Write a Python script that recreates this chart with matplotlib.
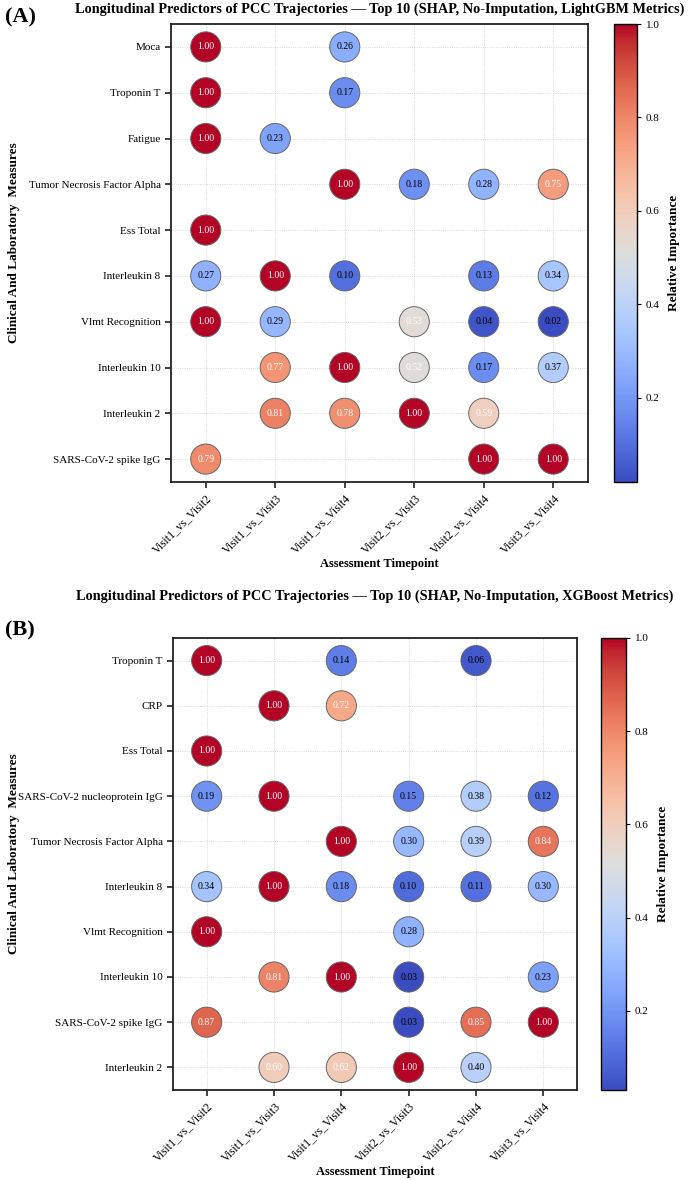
import numpy as np
import matplotlib
matplotlib.use("Agg")
import matplotlib.pyplot as plt
from matplotlib.colors import Normalize

plt.rcParams['font.family'] = ['Liberation Serif', 'DejaVu Serif']

timepoints = ["Visit1_vs_Visit2", "Visit1_vs_Visit3", "Visit1_vs_Visit4",
              "Visit2_vs_Visit3", "Visit2_vs_Visit4", "Visit3_vs_Visit4"]

features_a = ["Moca", "Troponin T", "Fatigue", "Tumor Necrosis Factor Alpha", "Ess Total",
              "Interleukin 8", "Vlmt Recognition", "Interleukin 10", "Interleukin 2",
              "SARS-CoV-2 spike IgG"]
N = np.nan
values_a = [
    [1.00, N, 0.26, N, N, N],
    [1.00, N, 0.17, N, N, N],
    [1.00, 0.23, N, N, N, N],
    [N, N, 1.00, 0.18, 0.28, 0.75],
    [1.00, N, N, N, N, N],
    [0.27, 1.00, 0.10, N, 0.13, 0.34],
    [1.00, 0.29, N, 0.53, 0.04, 0.02],
    [N, 0.77, 1.00, 0.52, 0.17, 0.37],
    [N, 0.81, 0.78, 1.00, 0.59, N],
    [0.79, N, N, N, 1.00, 1.00],
]

features_b = ["Troponin T", "CRP", "Ess Total", "SARS-CoV-2 nucleoprotein IgG",
              "Tumor Necrosis Factor Alpha", "Interleukin 8", "Vlmt Recognition",
              "Interleukin 10", "SARS-CoV-2 spike IgG", "Interleukin 2"]
values_b = [
    [1.00, N, 0.14, N, 0.06, N],
    [N, 1.00, 0.72, N, N, N],
    [1.00, N, N, N, N, N],
    [0.19, 1.00, N, 0.15, 0.38, 0.12],
    [N, N, 1.00, 0.30, 0.39, 0.84],
    [0.34, 1.00, 0.18, 0.10, 0.11, 0.30],
    [1.00, N, N, 0.28, N, N],
    [N, 0.81, 1.00, 0.03, N, 0.23],
    [0.87, N, N, 0.03, 0.85, 1.00],
    [N, 0.60, 0.62, 1.00, 0.40, N],
]

title_a = "Longitudinal Predictors of PCC Trajectories \u2014 Top 10 (SHAP, No-Imputation, LightGBM Metrics)"
title_b = "Longitudinal Predictors of PCC Trajectories \u2014 Top 10 (SHAP, No-Imputation, XGBoost Metrics)"

W, H = 688, 1180
fig = plt.figure(figsize=(W / 100, H / 100), dpi=100)


def frac(x0, y0, x1, y1):
    return [x0 / W, 1 - y1 / H, (x1 - x0) / W, (y1 - y0) / H]


def panel(ax_box, cb_box, feats, vals, title, title_y, letter, letter_y):
    ax = fig.add_axes(frac(*ax_box))
    cax = fig.add_axes(frac(*cb_box))
    arr = np.array(vals, dtype=float)
    vmin = np.nanmin(arr)
    norm = Normalize(vmin=vmin, vmax=1.0)
    cmap = plt.get_cmap('coolwarm')
    ys, xs = np.where(~np.isnan(arr))
    v = arr[ys, xs]
    sc = ax.scatter(xs, ys, c=v, cmap=cmap, norm=norm, s=470,
                    edgecolors='#666666', linewidths=0.7, zorder=3)
    for x, y, val in zip(xs, ys, v):
        ax.text(x, y, f"{val:.2f}", ha='center', va='center', fontsize=7,
                color='white' if val > 0.5 else 'black', zorder=4)
    ax.set_xlim(-0.5, len(timepoints) - 0.5)
    ax.set_ylim(len(feats) - 0.5, -0.5)
    ax.set_xticks(range(len(timepoints)))
    ax.set_xticklabels(timepoints, rotation=45, ha='right', rotation_mode='anchor', fontsize=8.5)
    ax.set_yticks(range(len(feats)))
    ax.set_yticklabels(feats, fontsize=8)
    ax.tick_params(axis='both', length=4, width=1.2, color='#222222')
    ax.grid(True, linestyle=':', color='#cccccc', linewidth=0.6, zorder=0)
    ax.set_axisbelow(True)
    for sp in ax.spines.values():
        sp.set_linewidth(1.3)
        sp.set_color('#222222')
    ax.set_xlabel("Assessment Timepoint", fontsize=9, fontweight='bold', labelpad=1)
    xc = (ax_box[0] + ax_box[2]) / 2
    fig.text(xc / W, 1 - title_y / H, title, fontsize=10.3, fontweight='bold',
             ha='center', va='center')
    cb = fig.colorbar(sc, cax=cax)
    cb.set_ticks([0.2, 0.4, 0.6, 0.8, 1.0])
    cb.ax.tick_params(labelsize=8, length=3)
    cb.set_label("Relative Importance", fontsize=9.5, fontweight='bold', labelpad=6)
    cb.outline.set_linewidth(1.0)
    fig.text(5 / W, 1 - letter_y / H, letter, fontsize=16, fontweight='bold',
             ha='left', va='center')
    yc = (ax_box[1] + ax_box[3]) / 2 - 10
    fig.text(14 / W, 1 - yc / H, "Clinical And Laboratory  Measures", rotation=90,
             fontsize=9.5, fontweight='bold', ha='center', va='center')
    return ax


panel((171, 24, 588, 482), (614, 24, 637, 482), features_a, values_a, title_a, 9, "(A)", 17)
panel((173, 638, 577, 1090), (601, 638, 626, 1090), features_b, values_b, title_b, 596, "(B)", 630)

fig.savefig("out.png", dpi=100)
